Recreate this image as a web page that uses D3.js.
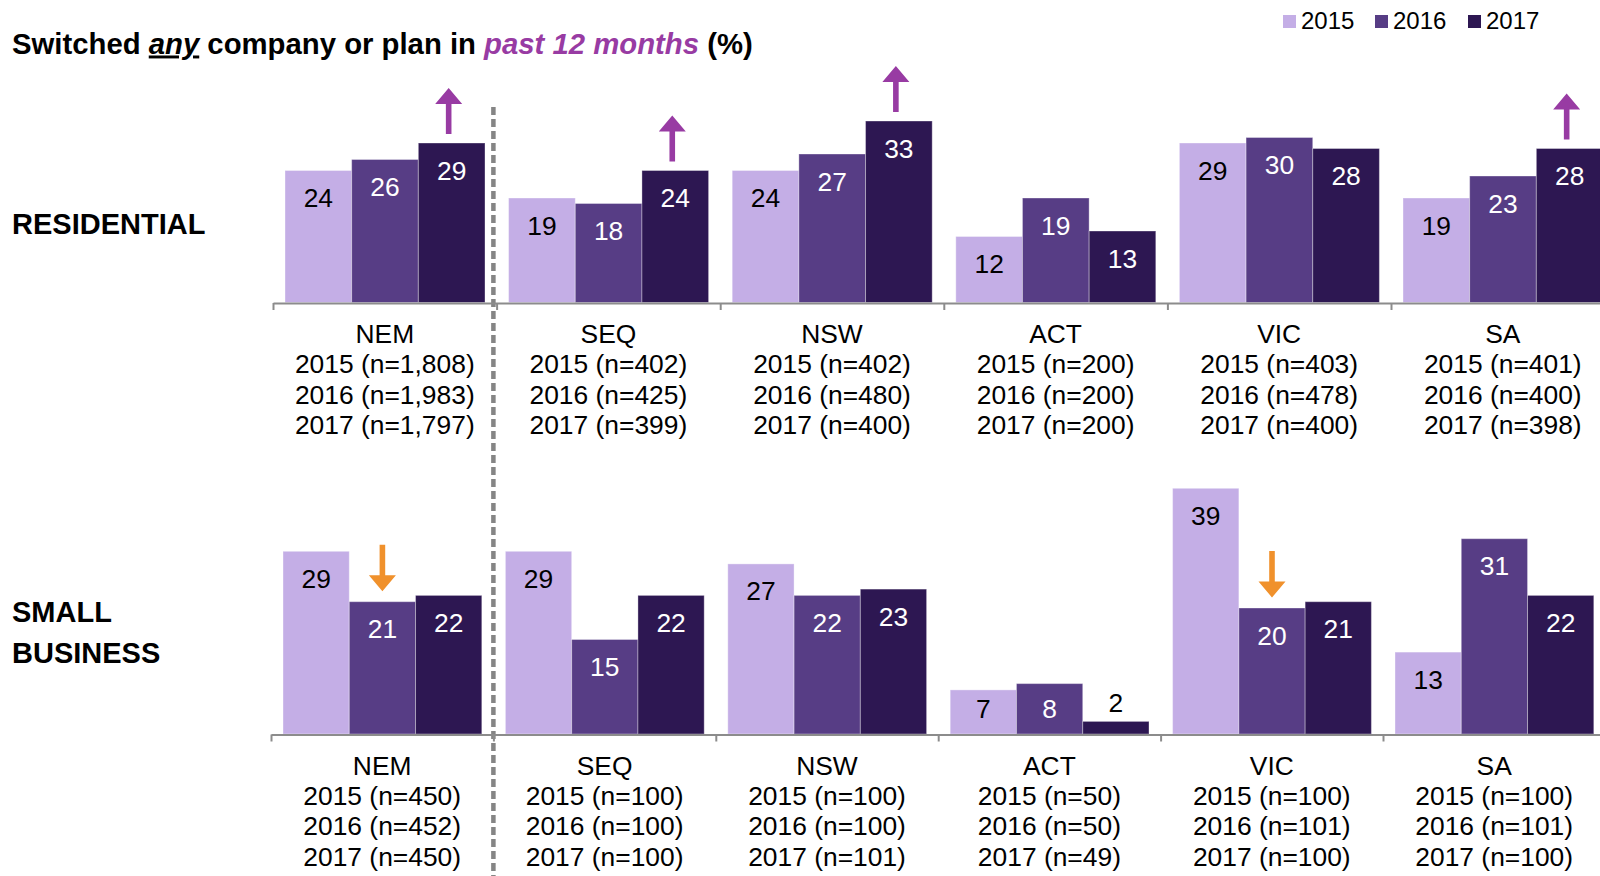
<!DOCTYPE html>
<html>
<head>
<meta charset="utf-8">
<script src="https://cdn.jsdelivr.net/npm/d3@7"></script>
<style>
	body { margin:0; background:#fff; }
	svg text { font-family:"Liberation Sans", Arial, sans-serif; }
</style>
</head>
<body>
<div id="viz-container"></div>
<script>
	// data
	var regions = ["NEM","SEQ","NSW","ACT","VIC","SA"];
	var years = ["2015","2016","2017"];

	var res2015 = [24,19,24,12,29,19],
		res2016 = [26,18,27,19,30,23],
		res2017 = [29,24,33,13,28,28];

	var sb2015 = [29,29,27,7,39,13],
		sb2016 = [21,15,22,8,20,31],
		sb2017 = [22,22,23,2,21,22];

	var resN2015 = ["1,808","402","402","200","403","401"],
		resN2016 = ["1,983","425","480","200","478","400"],
		resN2017 = ["1,797","399","400","200","400","398"];

	var sbN2015 = ["450","100","100","50","100","100"],
		sbN2016 = ["452","100","100","50","101","101"],
		sbN2017 = ["450","100","101","49","100","100"];

	// significant changes (arrows)
	var resUp = [["NEM","2017"],["SEQ","2017"],["NSW","2017"],["SA","2017"]];
	var sbDown = [["NEM","2016"],["VIC","2016"]];

	var colors = ["#c4aee6","#573d85","#2d1752"],
		labelColors = ["#000","#fff","#fff"],
		purple = "#983ba3",
		orange = "#f0912c";

	var width = 1600, height = 876;

	var svg = d3.select('#viz-container')
		.append('svg')
			.attr('width', width)
			.attr('height', height);

	// panel settings
	var panels = [
		{ key:"res", vals:[res2015,res2016,res2017], ns:[resN2015,resN2016,resN2017],
		  x0:273, step:223.6, base:302.5, ppu:5.5, name:["RESIDENTIAL"], nameY:234 },
		{ key:"sb", vals:[sb2015,sb2016,sb2017], ns:[sbN2015,sbN2016,sbN2017],
		  x0:271, step:222.4, base:734, ppu:6.3, name:["SMALL","BUSINESS"], nameY:621.5 }
	];

	panels.forEach(function(p){
		p.xScale = d3.scaleBand()
			.domain(regions)
			.range([p.x0, p.x0 + p.step*regions.length]);
		p.xYear = d3.scaleBand()
			.domain(years)
			.range([12, p.step - 11.6]);
		p.yScale = d3.scaleLinear()
			.domain([0, 40])
			.range([p.base, p.base - 40*p.ppu]);
		p.idx = d3.scaleLinear()
			.domain([0, regions.length])
			.range([p.x0, p.x0 + p.step*regions.length]);
	});

	// dashed separator between NEM and states
	svg.append("line")
		.attr("x1", panels[1].idx(1))
		.attr("x2", panels[1].idx(1))
		.attr("y1", 107)
		.attr("y2", height)
		.attr("stroke", "#858585")
		.attr("stroke-width", 4.5)
		.attr("stroke-dasharray", "8,4");

	function drawPanel(p){
		var g = svg.append("g").attr("class", "panel-" + p.key);

		var rows = [];
		regions.forEach(function(r, i){
			years.forEach(function(y, j){
				rows.push({region:r, year:y, yi:j, value:p.vals[j][i]});
			});
		});

		// bars
		g.selectAll("rect.bar")
			.data(rows)
			.enter()
			.append("rect")
				.attr("class", "bar")
				.attr("x", function(d){ return p.xScale(d.region) + p.xYear(d.year); })
				.attr("width", p.xYear.bandwidth())
				.attr("y", function(d){ return p.yScale(d.value); })
				.attr("height", function(d){ return p.yScale(0) - p.yScale(d.value); })
				.attr("fill", function(d){ return colors[d.yi]; })
				.attr("stroke", "#ffffff")
				.attr("stroke-opacity", 0.35)
				.attr("stroke-width", 1);

		// value labels
		g.selectAll("text.val")
			.data(rows)
			.enter()
			.append("text")
				.attr("class", "val")
				.attr("x", function(d){ return p.xScale(d.region) + p.xYear(d.year) + p.xYear.bandwidth()/2; })
				.attr("y", function(d){
					var top = p.yScale(d.value), h = p.yScale(0) - top;
					if (h < 30) return top - 9;
					return Math.min(top + 36.5, p.yScale(0) - 16);
				})
				.attr("text-anchor", "middle")
				.style("font-size", "26.4px")
				.attr("fill", function(d){
					var h = p.yScale(0) - p.yScale(d.value);
					return h < 30 ? "#000" : labelColors[d.yi];
				})
				.text(function(d){ return d.value; });

		// axis with ticks at group boundaries
		var axis = d3.axisBottom(p.idx)
			.tickValues(d3.range(0, regions.length + 1))
			.tickSize(7)
			.tickSizeOuter(0)
			.tickFormat("");

		var ax = g.append("g")
			.attr("class", "x axis")
			.attr("transform", "translate(0," + (p.base + 0.5) + ")")
			.call(axis);
		ax.selectAll("path, line")
			.attr("stroke", "#8c8c8c")
			.attr("stroke-width", 2);

		// category labels with sample sizes
		var cat = g.selectAll("text.cat")
			.data(regions)
			.enter()
			.append("text")
				.attr("class", "cat")
				.attr("text-anchor", "middle")
				.attr("x", function(d){ return p.xScale(d) + p.xScale.bandwidth()/2; })
				.attr("y", p.base + 40.5)
				.style("font-size", "26.4px")
				.attr("fill", "#000");

		cat.each(function(d, i){
			var t = d3.select(this),
				cx = p.xScale(d) + p.xScale.bandwidth()/2;
			t.append("tspan").attr("x", cx).attr("dy", 0).text(d);
			years.forEach(function(y, j){
				t.append("tspan")
					.attr("x", cx)
					.attr("dy", 30.4)
					.text(y + " (n=" + p.ns[j][i] + ")");
			});
		});

		// row title
		var nm = g.append("text")
			.attr("x", 12)
			.attr("y", p.nameY)
			.style("font-size", "29px")
			.style("font-weight", "bold")
			.attr("fill", "#000");
		p.name.forEach(function(s, k){
			nm.append("tspan").attr("x", 12).attr("dy", k === 0 ? 0 : 41.7).text(s);
		});
	}

	panels.forEach(drawPanel);

	// arrows for significant changes
	function arrowPath(cx, tail, tip){
		var dir = tip < tail ? -1 : 1,
			headH = 16, headW = 13.5, shaftW = 2.8,
			neck = tip - dir*headH;
		return "M" + (cx - shaftW) + "," + tail +
			"L" + (cx - shaftW) + "," + neck +
			"L" + (cx - headW) + "," + neck +
			"L" + cx + "," + tip +
			"L" + (cx + headW) + "," + neck +
			"L" + (cx + shaftW) + "," + neck +
			"L" + (cx + shaftW) + "," + tail + "Z";
	}

	var pr = panels[0], ps = panels[1];

	svg.selectAll("path.up")
		.data(resUp)
		.enter()
		.append("path")
			.attr("class", "up")
			.attr("fill", purple)
			.attr("d", function(d){
				var i = regions.indexOf(d[0]), j = years.indexOf(d[1]),
					cx = pr.xScale(d[0]) + pr.xYear(d[1]) + pr.xYear.bandwidth()/2 - 3,
					top = pr.yScale(pr.vals[j][i]);
				return arrowPath(cx, top - 9, top - 55);
			});

	svg.selectAll("path.down")
		.data(sbDown)
		.enter()
		.append("path")
			.attr("class", "down")
			.attr("fill", orange)
			.attr("d", function(d){
				var i = regions.indexOf(d[0]), j = years.indexOf(d[1]),
					cx = ps.xScale(d[0]) + ps.xYear(d[1]) + ps.xYear.bandwidth()/2,
					top = ps.yScale(ps.vals[j][i]);
				return arrowPath(cx, top - 57, top - 10.5);
			});

	// title
	var title = svg.append("text")
		.attr("x", 12)
		.attr("y", 53.5)
		.style("font-size", "29.3px")
		.style("font-weight", "bold")
		.attr("fill", "#000");
	title.append("tspan").text("Switched ");
	title.append("tspan").style("font-style", "italic").style("text-decoration", "underline").text("any");
	title.append("tspan").text(" company or plan in ");
	title.append("tspan").style("font-style", "italic").attr("fill", purple).text("past 12 months");
	title.append("tspan").text(" (%)");

	// legend
	var legX = [1283, 1375, 1468];
	var leg = svg.selectAll("g.legend")
		.data(years)
		.enter()
		.append("g")
			.attr("class", "legend")
			.attr("transform", function(d, i){ return "translate(" + legX[i] + ",0)"; });
	leg.append("rect")
		.attr("x", 0).attr("y", 15)
		.attr("width", 13).attr("height", 13)
		.attr("fill", function(d, i){ return colors[i]; });
	leg.append("text")
		.attr("x", 18).attr("y", 29)
		.style("font-size", "24px")
		.attr("fill", "#000")
		.text(function(d){ return d; });
</script>
</body>
</html>
